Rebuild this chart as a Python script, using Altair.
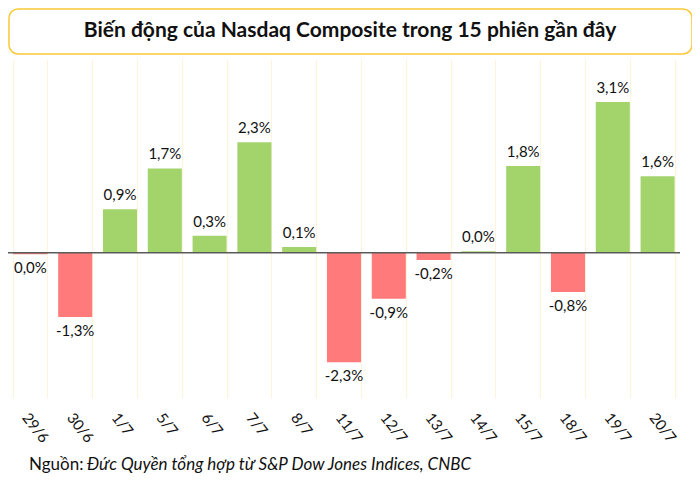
import altair as alt
import pandas as pd

dates = ["29/6", "30/6", "1/7", "5/7", "6/7", "7/7", "8/7", "11/7", "12/7",
         "13/7", "14/7", "15/7", "18/7", "19/7", "20/7"]
changes = [-0.03, -1.33, 0.90, 1.74, 0.35, 2.28, 0.12, -2.26, -0.95,
           -0.15, 0.03, 1.79, -0.81, 3.11, 1.58]
labels = ["0,0%", "-1,3%", "0,9%", "1,7%", "0,3%", "2,3%", "0,1%", "-2,3%", "-0,9%",
          "-0,2%", "0,0%", "1,8%", "-0,8%", "3,1%", "1,6%"]
title_text = "Biến động của Nasdaq Composite trong 15 phiên gần đây"
source_label = "Nguồn:"
source_text = "Đức Quyền tổng hợp từ S&P Dow Jones Indices, CNBC"

GREEN = "#A3D46B"
RED = "#FF7B7B"
W, H = 672, 339

df = pd.DataFrame({
    "date": dates,
    "value": changes,
    "label": labels,
    "sign": ["pos" if v >= 0 else "neg" for v in changes],
})

x = alt.X("date:N", sort=dates,
          scale=alt.Scale(paddingInner=0.24, paddingOuter=0.12),
          axis=alt.Axis(title=None, labelAngle=52, labelAlign="left", labelBaseline="top",
                        labelFont="Lato", labelFontSize=15, labelColor="#111",
                        labelPadding=12, ticks=False, domain=False,
                        grid=True, gridColor="#FFF4DA", gridWidth=1,
                        tickBand="extent"))
y = alt.Y("value:Q", scale=alt.Scale(domain=[-3, 4], nice=False), axis=None)

base = alt.Chart(df)

bars = base.mark_bar().encode(
    x=x, y=y,
    color=alt.Color("sign:N", scale=alt.Scale(domain=["pos", "neg"], range=[GREEN, RED]), legend=None),
)

lbl_pos = base.transform_filter(alt.datum.sign == "pos").mark_text(
    baseline="bottom", dy=-6, font="Lato", fontSize=15, color="#111"
).encode(x=x, y=y, text="label:N")

lbl_neg = base.transform_filter(alt.datum.sign == "neg").mark_text(
    baseline="top", dy=7, font="Lato", fontSize=15, color="#111"
).encode(x=x, y=y, text="label:N")

zero = alt.Chart(pd.DataFrame({"z": [0]})).mark_rule(color="#5A5A5A", strokeWidth=1.5).encode(
    y=alt.Y("z:Q", scale=alt.Scale(domain=[-3, 4], nice=False), axis=None),
    x=alt.value(0), x2=alt.value(W),
)

one = pd.DataFrame({"t": [title_text]})
box = alt.Chart(one).mark_rect(
    fill="white", stroke="#F9C935", strokeWidth=1.5, cornerRadius=9
).encode(x=alt.value(1), x2=alt.value(684), y=alt.value(-50), y2=alt.value(-5))

title = alt.Chart(one).mark_text(
    font="Lato", fontSize=21, fontWeight="bold", color="#111", align="center", baseline="middle"
).encode(x=alt.value(342), y=alt.value(-28), text="t:N")

src1 = alt.Chart(pd.DataFrame({"t": [source_label]})).mark_text(
    font="Lato", fontSize=17, color="#111", align="left", baseline="middle"
).encode(x=alt.value(21), y=alt.value(406), text="t:N")

src2 = alt.Chart(pd.DataFrame({"t": [source_text]})).mark_text(
    font="Lato", fontSize=17, fontStyle="italic", color="#111", align="left", baseline="middle"
).encode(x=alt.value(79), y=alt.value(406), text="t:N")

chart = alt.layer(box, title, bars, zero, lbl_pos, lbl_neg, src1, src2).properties(
    width=W, height=H, background="white",
    padding={"left": 0, "top": 51, "right": 12, "bottom": 90},
    autosize=alt.AutoSizeParams(type="none"),
).configure_view(stroke=None)

chart.save("out.html", embed_options={"renderer": "svg", "actions": False})
